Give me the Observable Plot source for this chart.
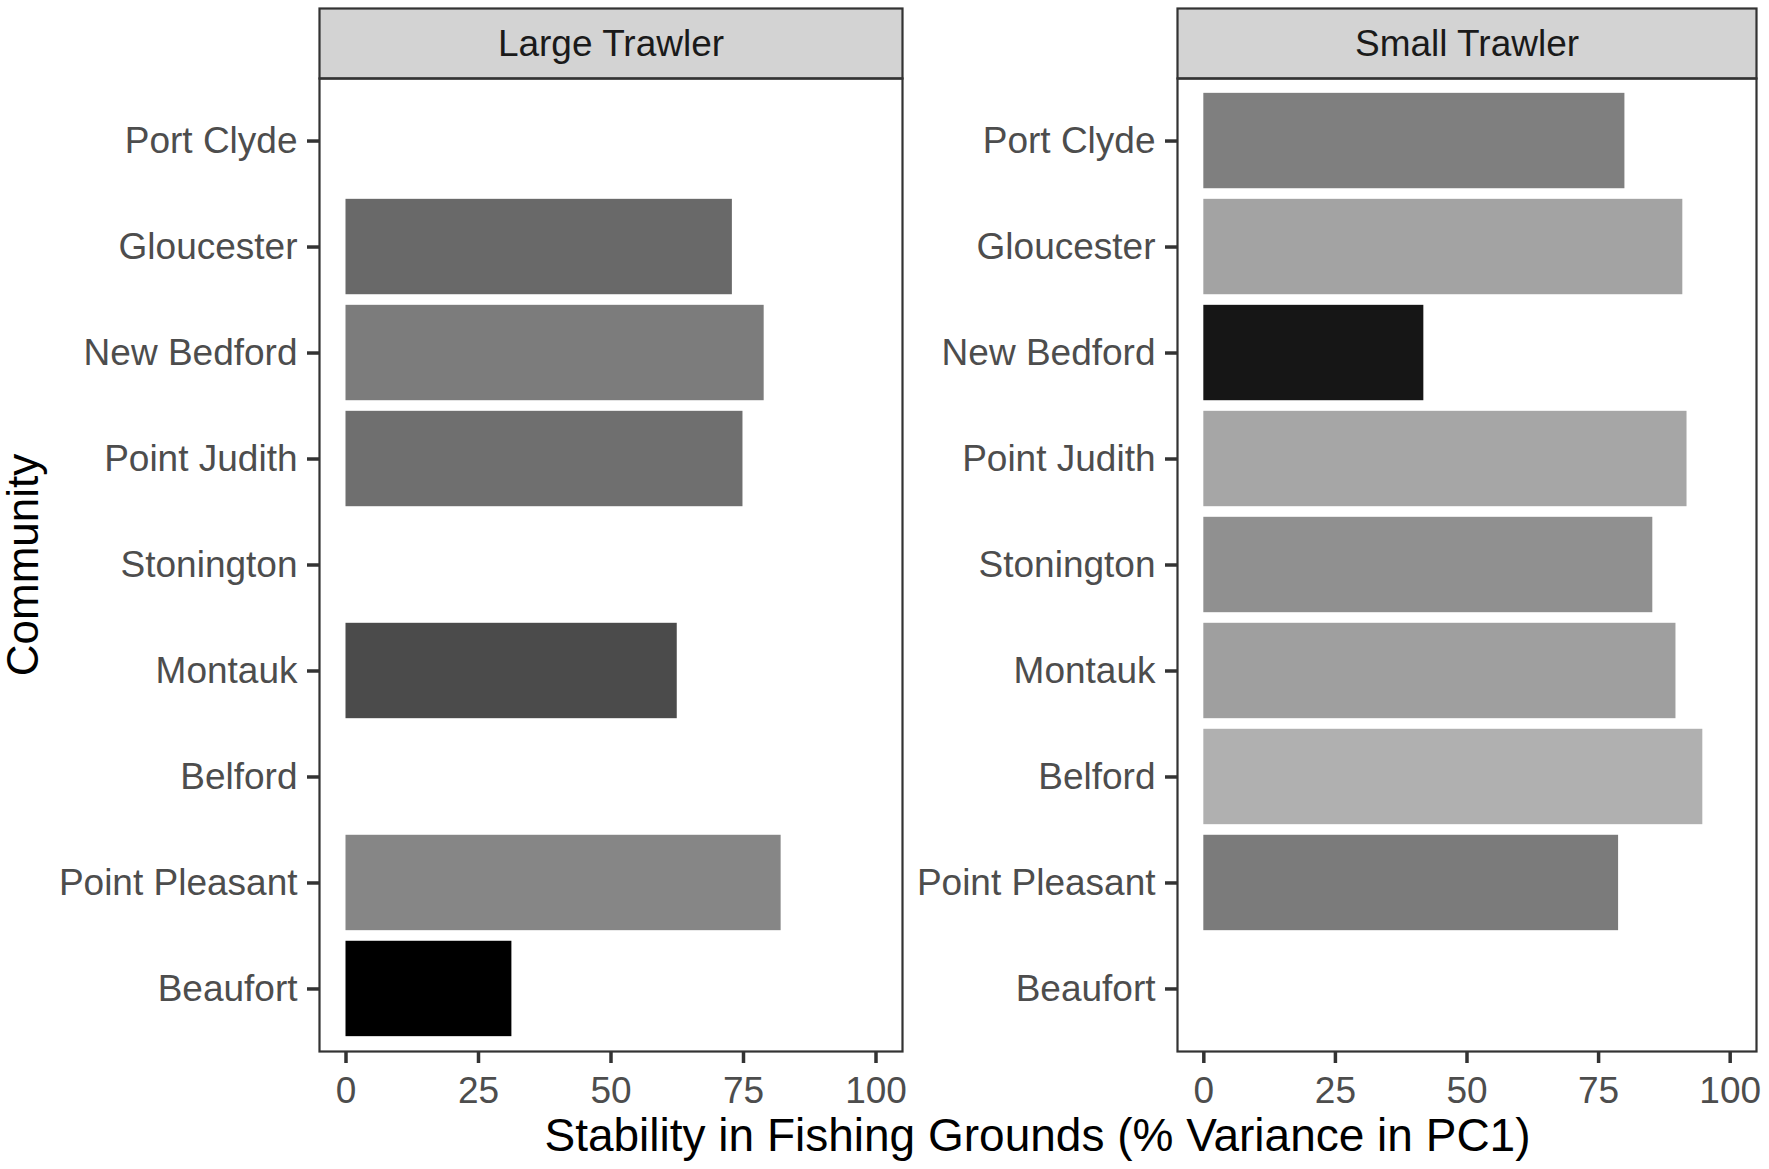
<!DOCTYPE html>
<html>
<head>
<meta charset="utf-8">
<script src="https://cdn.jsdelivr.net/npm/d3@7"></script>
<script src="https://cdn.jsdelivr.net/npm/@observablehq/plot@0.6"></script>
<style>
  html, body { margin: 0; padding: 0; background: #ffffff; }
  #chart { position: relative; width: 1769px; height: 1169px; font-family: "Liberation Sans", Arial, sans-serif; }
  .panel { position: absolute; top: 0; }
  #xtitle { position: absolute; left: 319px; top: 1106px; width: 1437px; text-align: center; font-size: 46px; line-height: 58px; color: #000; white-space: nowrap; }
</style>
</head>
<body>
<div id="chart">
  <div id="left" class="panel" style="left:0px"></div>
  <div id="right" class="panel" style="left:905px"></div>
  <div id="xtitle"></div>
</div>
<script>
// ---- data ----
const communities = ["Port Clyde", "Gloucester", "New Bedford", "Point Judith", "Stonington", "Montauk", "Belford", "Point Pleasant", "Beaufort"];
const gearTypes = ["Large Trawler", "Small Trawler"];
const largeTrawler = [null, 72.9, 78.9, 74.9, null, 62.5, null, 82.1, 31.3];
const smallTrawler = [80.0, 91.0, 41.8, 91.8, 85.3, 89.7, 94.8, 78.8, null];
const xTicks = [0, 25, 50, 75, 100];
const xTitle = "Stability in Fishing Grounds (% Variance in PC1)";
const yTitle = "Community";

const series = {"Large Trawler": largeTrawler, "Small Trawler": smallTrawler};
const allValues = [...largeTrawler, ...smallTrawler].filter(v => v != null);
const colorDomain = d3.extent(allValues);

const H = 1106, MT = 78, MB = 55;
const panelH = H - MT - MB;
const font = "'Liberation Sans', Arial, sans-serif";

function panel(gear, {width, marginLeft, marginRight, withYTitle}) {
  const rows = communities
    .map((c, i) => ({community: c, value: series[gear][i]}))
    .filter(d => d.value != null);
  const marks = [
    Plot.frame({insetTop: -70, insetBottom: panelH, fill: "#d3d3d3", stroke: "#333333", strokeWidth: 2.2}),
    Plot.text([gear], {frameAnchor: "top", lineAnchor: "bottom", dy: -23, fontSize: 37, fill: "#1a1a1a", text: d => d}),
    Plot.barX(rows, {y: "community", x1: 0, x2: "value", fill: "value"}),
    Plot.frame({stroke: "#333333", strokeWidth: 2.2}),
    Plot.axisY({tickSize: 12, tickPadding: 10, fontSize: 37, stroke: "#333333", strokeWidth: 3.5, fill: "#4d4d4d", label: null}),
    Plot.axisX({ticks: xTicks, tickSize: 12, tickPadding: 13, fontSize: 37, stroke: "#333333", strokeWidth: 3.5, fill: "#4d4d4d", label: null})
  ];
  if (withYTitle) {
    marks.push(Plot.text([yTitle], {frameAnchor: "left", rotate: -90, lineAnchor: "bottom", textAnchor: "middle", dx: -282, fontSize: 44, fill: "#000000", text: d => d}));
  }
  return Plot.plot({
    width, height: H,
    marginTop: MT, marginBottom: MB, marginLeft, marginRight,
    style: {fontFamily: font, background: "transparent", overflow: "visible"},
    x: {domain: [-5, 105]},
    y: {domain: communities, paddingInner: 0.1, paddingOuter: 0.14, round: false},
    color: {type: "pow", exponent: 1.5, domain: colorDomain, range: ["#000000", "#b0b0b0"], interpolate: "rgb"},
    marks
  });
}

document.getElementById("left").append(panel(gearTypes[0], {width: 905, marginLeft: 319, marginRight: 3, withYTitle: true}));
document.getElementById("right").append(panel(gearTypes[1], {width: 864, marginLeft: 272, marginRight: 13, withYTitle: false}));
document.getElementById("xtitle").textContent = xTitle;
</script>
</body>
</html>
